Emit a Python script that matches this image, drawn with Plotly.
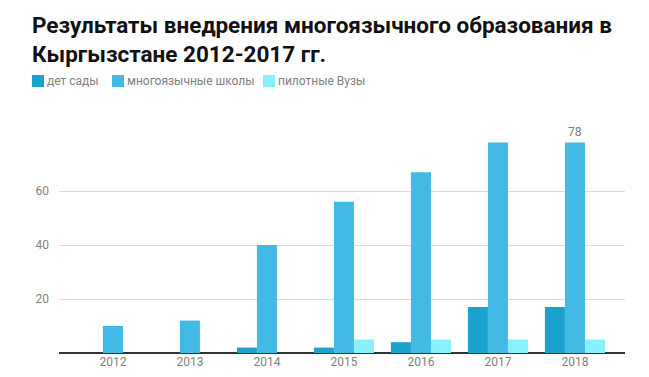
import plotly.graph_objects as go

years = ["2012", "2013", "2014", "2015", "2016", "2017", "2018"]
kindergartens = [0, 0, 2, 2, 4, 17, 17]
multilingual_schools = [10, 12, 40, 56, 67, 78, 78]
pilot_universities = [0, 0, 0, 5, 5, 5, 5]
series_names = ["дет сады", "многоязычные школы", "пилотные Вузы"]
colors = ["#1AA1CD", "#43B9E5", "#88F0FD"]
title_text = "Результаты внедрения многоязычного образования в<br>Кыргызстане 2012-2017 гг."

W, H = 649, 377
ML, MR, MT, MB = 59, 24, 140, 24
PW, PH = W - ML - MR, H - MT - MB

def px_x(px):
    return (px - ML) / PW

def px_y(py):
    return (H - MB - py) / PH

fig = go.Figure()
series = [kindergartens, multilingual_schools, pilot_universities]
for i, (name, vals) in enumerate(zip(series_names, series)):
    txt = None
    if i == 1:
        txt = ["" for _ in vals[:-1]] + [str(vals[-1])]
    fig.add_trace(go.Bar(
        x=years, y=vals, name=name, marker_color=colors[i], marker_line_width=0,
        text=txt, textposition="outside" if txt else None,
        textfont=dict(color="#808080", size=12, family="Roboto"),
        cliponaxis=False, showlegend=False, hoverinfo="x+y+name",
    ))

# custom legend (symbol squares + text) to match the reference spacing
legend_symbol_x = [32, 112, 263]
legend_text_x = [45, 125, 276]
legend_y = 81
shapes, annotations = [], []
for i, name in enumerate(series_names):
    sx = legend_symbol_x[i]
    shapes.append(dict(type="rect", xref="paper", yref="paper",
                       x0=px_x(sx), x1=px_x(sx + 12),
                       y0=px_y(legend_y + 6), y1=px_y(legend_y - 6),
                       fillcolor=colors[i], line_width=0, layer="above"))
    annotations.append(dict(text=name, xref="paper", yref="paper",
                            x=px_x(legend_text_x[i]), y=px_y(legend_y),
                            xanchor="left", yanchor="middle", showarrow=False,
                            font=dict(family="Roboto", size=12, color="#808080")))

fig.update_layout(
    width=W, height=H,
    paper_bgcolor="white", plot_bgcolor="white",
    margin=dict(l=ML, r=MR, t=MT, b=MB, autoexpand=False),
    font=dict(family="Roboto", color="#808080", size=12),
    title=dict(text=title_text, x=32 / W, xanchor="left", xref="container",
               y=1 - 29 / H, yanchor="top", yref="container", pad=dict(t=4, l=0),
               font=dict(family="Roboto", size=22.5, color="#111111", weight="bold")),
    barmode="group", bargap=0.22, bargroupgap=0,
    showlegend=False,
    shapes=shapes, annotations=annotations,
    xaxis=dict(type="category", range=[-0.7, 6.65], showgrid=False, automargin=False,
               showline=False, ticks="", tickfont=dict(size=12, color="#808080")),
    yaxis=dict(range=[0, 78.9], tickvals=[20, 40, 60], showgrid=True, automargin=False,
               gridcolor="#DDDDDD", gridwidth=1, zeroline=True,
               zerolinecolor="#333333", zerolinewidth=1.5, showline=False,
               ticks="", ticklabelstandoff=9, tickfont=dict(size=12, color="#808080")),
)

fig.write_html("out.html", config={"displayModeBar": False},
               post_script="document.body.style.margin='0';document.body.style.overflow='hidden';")
